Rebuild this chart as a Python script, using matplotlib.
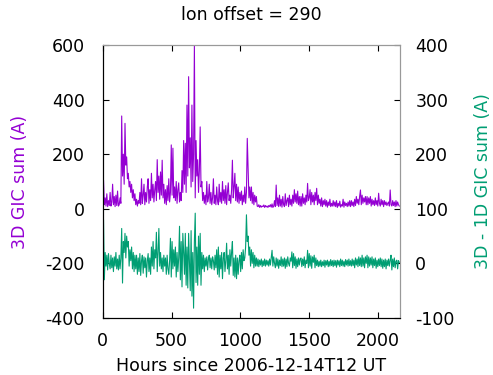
import numpy as np
import matplotlib
matplotlib.use('Agg')
import matplotlib.pyplot as plt

plt.rcParams.update({'font.size': 12.5, 'font.family': 'DejaVu Sans',
                     'axes.unicode_minus': False})

step_h = 6
gic_3d = [20, 105, 15, 40, 10, 55, 8, 30, 12, 60, 10, 25, 90, 15, 45, 8, 50, 12, 65, 10,
          15, 40, 20, 340, 120, 200, 90, 313, 160, 190, 110, 130, 80, 100, 60, 90, 40, 70, 30, 55,
          15, 35, 10, 30, 20, 60, 15, 110, 20, 50, 90, 15, 60, 25, 80, 110, 20, 70, 30, 130,
          40, 90, 25, 70, 100, 30, 180, 60, 120, 35, 135, 50, 178, 40, 90, 20, 70, 15, 85, 30,
          110, 25, 60, 234, 50, 222, 40, 80, 30, 100, 20, 70, 95, 25, 60, 30, 140, 60, 250, 90,
          240, 60, 380, 120, 484, 150, 260, 80, 380, 100, 200, 600, 40, 250, 120, 180, 60, 140, 300, 80,
          100, 30, 60, 20, 50, 15, 100, 25, 40, 90, 20, 60, 15, 40, 110, 20, 50, 15, 80, 30,
          15, 90, 25, 60, 20, 100, 30, 70, 20, 85, 15, 60, 95, 30, 50, 20, 70, 178, 40, 80,
          130, 30, 90, 25, 80, 20, 60, 30, 65, 15, 50, 25, 80, 20, 60, 258, 150, 40, 80, 30,
          80, 20, 60, 15, 50, 25, 45, 10, 8, 15, 5, 12, 6, 10, 8, 14, 5, 12, 7, 10,
          5, 12, 8, 15, 6, 18, 5, 10, 30, 8, 87, 12, 40, 8, 50, 10, 35, 6, 45, 15,
          8, 55, 12, 30, 40, 8, 50, 15, 35, 10, 50, 20, 70, 25, 55, 20, 65, 15, 45, 10,
          45, 10, 55, 20, 40, 15, 50, 25, 93, 30, 40, 70, 15, 60, 25, 50, 15, 60, 30, 75,
          15, 50, 20, 35, 10, 40, 8, 30, 15, 35, 10, 30, 6, 25, 12, 35, 8, 20, 10, 30,
          10, 25, 8, 30, 5, 20, 10, 28, 6, 15, 10, 35, 6, 25, 12, 20, 8, 25, 10, 30,
          8, 30, 12, 25, 8, 35, 12, 45, 20, 35, 15, 45, 69, 15, 50, 20, 40, 25, 45, 15,
          45, 15, 40, 20, 45, 10, 35, 15, 30, 12, 40, 15, 30, 10, 57, 20, 10, 35, 15, 30,
          8, 30, 15, 25, 12, 20, 25, 10, 69, 15, 10, 30, 12, 25, 8, 30, 10, 25, 15, 10]

gic_diff = [-25, 80, -30, 20, -5, 15, -12, 18, 0, -10, 15, -8, 10, -15, 12, -5, 20, -10, 8, -12,
            15, -10, 10, 64, -36, 40, 20, 55, 10, 50, 30, 40, -5, 25, 5, 30, -10, 20, -15, 15,
            -10, 15, -20, 10, -15, 18, -22, 5, 15, -18, 12, -8, 10, -25, 5, 18, -15, 10, -20, 30,
            -5, 40, -10, 25, 10, 57, -15, 20, 64, -5, 20, -10, 10, -15, 15, -5, 10, -20, 15, -10,
            -20, 5, 46, -25, 40, -10, 25, -5, 30, -25, 20, -15, 10, 68, -30, 40, -43, 55, 20, -20,
            55, -40, 30, -45, 55, 0, -50, 60, -60, 20, -82, 40, 92, -35, 30, -40, 50, -20, 55, -40,
            20, -10, 15, -15, 10, -5, 12, -12, 8, 15, -8, 10, -10, 12, 5, -12, 15, -8, 25, -20,
            30, -25, 15, -10, 20, -28, 10, 20, -15, 5, 37, -10, 15, -20, 25, -5, 20, 40, -22, 10,
            -25, 15, -28, 10, -20, 5, 15, -15, 20, -10, 25, 5, 10, 30, 89, 40, 50, 15, 30, -5,
            25, 0, 20, -8, 15, -5, 10, -5, 8, -6, 6, -3, 8, -6, 5, -4, 8, -5, 6, -3,
            5, -5, 8, -3, 10, 24, -5, 12, 0, -8, 10, -5, 8, -9, 6, -4, 12, -6, 8, -5,
            10, -9, 8, -6, 12, 0, -5, 10, 4, 21, -8, 18, -4, 12, -9, 8, -6, 10, -3, 8,
            10, -6, 8, -4, 12, -8, 6, 0, 24, -8, 18, -5, 14, -9, 12, 2, 15, -8, 10, -4,
            6, -6, 4, -5, 6, -6, 3, -4, 6, -7, 5, -3, 6, -6, 4, -5, 7, -4, 5, -6,
            6, -4, 5, -7, 6, -3, 5, -6, 8, -4, 6, -5, 4, -6, 7, -3, 6, -5, 8, -4,
            5, -5, 8, -4, 6, -8, 10, -3, 8, -6, 12, -4, 10, -6, 15, -5, 10, -8, 12, 0,
            15, -8, 12, -5, 10, -3, 12, -8, 8, -4, 10, -9, 6, -6, 8, -4, 10, -6, 8, -9,
            6, -6, 8, -10, 6, -4, 8, -5, 6, 15, -12, 8, -6, 10, -8, 4, 6, -10, 5, 2]

hours = np.arange(len(gic_3d)) * step_h

purple = '#9400d3'
green = '#009e73'

fig = plt.figure(figsize=(4.93, 3.75), dpi=100)
ax = fig.add_axes([0.2083, 0.152, 0.603, 0.728])
ax2 = ax.twinx()

ax.plot(hours, gic_3d, color=purple, linewidth=0.8)
ax2.plot(hours, gic_diff, color=green, linewidth=0.8)

ax.set_xlim(0, 2159)
ax.set_ylim(-400, 600)
ax2.set_ylim(-100, 400)
ax.set_xticks([0, 500, 1000, 1500, 2000])
ax.set_yticks([-400, -200, 0, 200, 400, 600])
ax2.set_yticks([-100, 0, 100, 200, 300, 400])

ax.tick_params(axis='x', direction='in', top=True, length=4, pad=10)
ax.tick_params(axis='y', direction='in', length=4, pad=13)
ax2.tick_params(axis='y', direction='in', length=4, pad=11)

for a in (ax, ax2):
    a.spines['left'].set_color('black')
    a.spines['bottom'].set_color('black')
    a.spines['top'].set_color('#999999')
    a.spines['right'].set_color('#999999')

ax.set_xlabel('Hours since 2006-12-14T12 UT', labelpad=5)
ax.set_ylabel('3D GIC sum (A)', color=purple, labelpad=11.5)
ax2.set_ylabel('3D - 1D GIC sum (A)', color=green, labelpad=14)
ax.set_title('lon offset = 290', pad=18, fontsize=12.5)

fig.savefig('out.png', dpi=100)
